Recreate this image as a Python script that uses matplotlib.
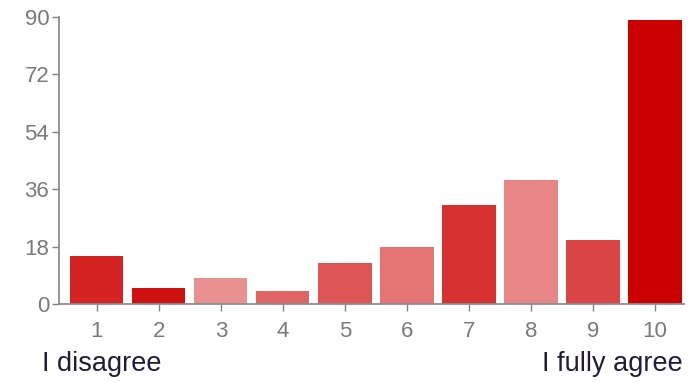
import matplotlib.pyplot as plt

# Answer counts for each point on the scale
scores = [1, 2, 3, 4, 5, 6, 7, 8, 9, 10]
counts = [15, 5, 8, 4, 13, 18, 31, 39, 20, 89]
bar_colors = ["#d52222", "#cf1010", "#e99191", "#e06464", "#df5454",
              "#e57474", "#d73131", "#e88585", "#db4444", "#cc0000"]
yticks = [0, 18, 36, 54, 72, 90]

plt.rcParams['font.family'] = ['Liberation Sans', 'DejaVu Sans']

fig = plt.figure(figsize=(6.93, 3.82), dpi=100)
ax = fig.add_axes([59 / 693, 1 - 304 / 382, (684 - 59) / 693, (304 - 17) / 382])

ax.bar(scores, counts, width=0.86, color=bar_colors, zorder=2)

ax.set_xlim(0.39, 10.47)
ax.set_ylim(0, 90)
ax.set_xticks(scores)
ax.set_yticks(yticks)
ax.tick_params(axis='both', colors='#808080', labelcolor='#7a7a7a', labelsize=16,
               length=5, width=1)
ax.tick_params(axis='x', pad=7)
ax.tick_params(axis='y', pad=2)

for side in ['top', 'right']:
    ax.spines[side].set_visible(False)
for side in ['left', 'bottom']:
    ax.spines[side].set_color('#8c8c8c')
    ax.spines[side].set_linewidth(1.3)

fig.text(42 / 693, 1 - 364 / 382, "I disagree", fontsize=19.5, color='#1e1e3c',
         ha='left', va='center')
fig.text(683 / 693, 1 - 364 / 382, "I fully agree", fontsize=19.5, color='#1e1e3c',
         ha='right', va='center')

fig.savefig("out.png", dpi=100)
